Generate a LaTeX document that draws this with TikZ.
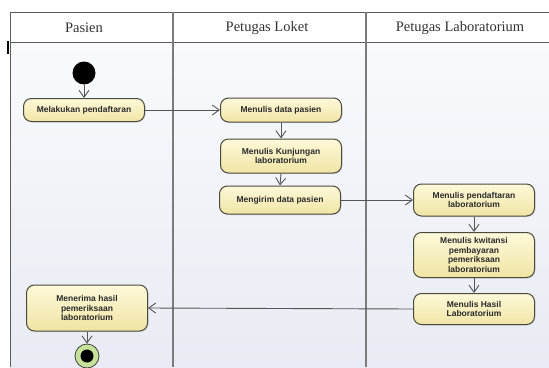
\documentclass[tikz,border=0pt]{standalone}
\usepackage{fontspec}
\setmainfont{Liberation Serif}
\newfontfamily\actfont{Liberation Sans}
\usepackage{tikz}
\usetikzlibrary{arrows.meta}
\usetikzlibrary{shadows}

\definecolor{frameline}{HTML}{5A5A5A}
\definecolor{lanetop}{HTML}{F9FAFD}
\definecolor{lanebottom}{HTML}{E8EBF3}
\definecolor{acttop}{HTML}{FDF9DA}
\definecolor{actbottom}{HTML}{F0E4A4}
\definecolor{actborder}{HTML}{4C4A3C}
\definecolor{acttext}{HTML}{2A2A2A}
\definecolor{arrowgray}{HTML}{555555}
\definecolor{endring}{HTML}{C6E29A}

\begin{document}
\begin{tikzpicture}[x=1pt,y=-1pt,
             lanehead/.style={font=\fontsize{14.5}{16}\selectfont, text=black!80},
             act/.style={draw=actborder, line width=1pt, top color=acttop, bottom color=actbottom,
                rounded corners=8pt, minimum width=121pt, align=center, text=acttext,
                font=\actfont\bfseries\fontsize{8.5}{9.8}\selectfont,
                drop shadow={shadow xshift=1pt, shadow yshift=-1pt, opacity=0.2}},
             initial/.style={circle, fill=black, minimum size=23pt, inner sep=0pt},
             final/.style={circle, draw=black!75, line width=0.8pt, fill=endring,
                minimum size=24pt, inner sep=0pt},
             finalDot/.style={circle, fill=black, minimum size=13pt, inner sep=0pt},
             connections/.style={-{Straight Barb[length=7pt,width=10pt]}, draw=arrowgray, line width=0.9pt},
          ]
          \useasboundingbox (0,0) rectangle (549,367);
          \fill[white] (0,0) rectangle (549,367);
          % lanes
          \fill[top color=lanetop, bottom color=lanebottom] (10,42) rectangle (549,367);
          \draw[frameline, line width=1pt] (549,12) -- (10,12) -- (10,367);
          \draw[frameline, line width=1pt] (10,42) -- (549,42);
          \draw[frameline!80, line width=1.3pt] (173,12) -- (173,367);
          \draw[frameline!80, line width=1.3pt] (366,12) -- (366,367);
          \fill[black] (7,41) rectangle (9,54);

          \node at (84,28) (pasien) [lanehead] {Pasien};
          \node at (267,28) (loket) [lanehead] {Petugas Loket};
          \node at (460,28) (lab) [lanehead] {Petugas Laboratorium};

          \node at (84,73) (start) [initial] {};
          \node at (84,110) (a1) [act, minimum height=23pt] {Melakukan pendaftaran};
          \node at (281,110) (a2) [act, minimum height=24pt] {Menulis data pasien};
          \node at (281,156) (a3) [act, minimum height=34pt] {Menulis Kunjungan\\laboratorium};
          \node at (280,200) (a4) [act, minimum height=28pt] {Mengirim data pasien};
          \node at (474,200) (a5) [act, minimum height=32pt] {Menulis pendaftaran\\laboratorium};
          \node at (474,255) (a6) [act, minimum height=45pt] {Menulis kwitansi\\pembayaran\\pemeriksaan\\laboratorium};
          \node at (474,309) (a7) [act, minimum height=31pt] {Menulis Hasil\\Laboratorium};
          \node at (87,308) (a8) [act, minimum height=46pt] {Menerima hasil\\pemeriksaan\\laboratorium};
          \node at (87,356) (end) [final] {};
          \node at (end) (endDot) [finalDot] {};

          \draw[connections] (start.south) -- (a1.north);
          \draw[connections] (a1.east) -- (a2.west);
          \draw[connections] (a2.south) -- (a3.north);
          \draw[connections] (a3.south) -- (a4.north);
          \draw[connections] (a4.east) -- (a5.west);
          \draw[connections] (a5.south) -- (a6.north);
          \draw[connections] (a6.south) -- (a7.north);
          \draw[connections] (a7.west) -- (a8.east);
          \draw[connections] (a8.south) -- (end.north);

       \end{tikzpicture}
\end{document}
